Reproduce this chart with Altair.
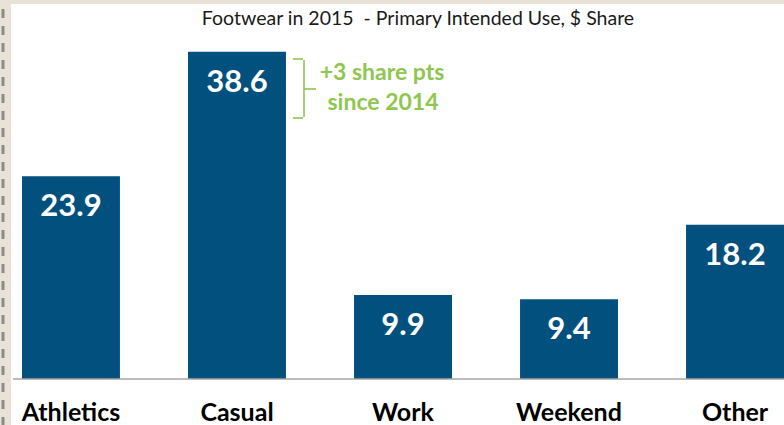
import altair as alt
import pandas as pd

categories = ["Athletics", "Casual", "Work", "Weekend", "Other"]
shares = [23.9, 38.6, 9.9, 9.4, 18.2]
title_text = "Footwear in 2015\u00a0\u00a0- Primary Intended Use, $ Share"
note_lines = ["+3 share pts", "since 2014"]

df = pd.DataFrame({"cat": categories, "share": shares,
                   "label": [f"{v:.1f}" for v in shares]})
one = pd.DataFrame({"a": [0]})

BAR = "#02507e"
GREEN = "#8fc650"
FONT = "Lato"

x = alt.X("cat:N", sort=categories,
          scale=alt.Scale(range=[22, 784], paddingInner=0.41, paddingOuter=0),
          axis=alt.Axis(title=None, ticks=False, domain=False, labelAngle=0,
                        labelFont=FONT, labelFontWeight="bold", labelFontSize=25,
                        labelColor="#000000", labelPadding=21))
y = alt.Y("share:Q", scale=alt.Scale(domain=[0, 44.7]), axis=None)

base = alt.Chart(df)
bars = base.mark_bar(color=BAR).encode(x=x, y=y)
vals = base.mark_text(color="white", font=FONT, fontWeight="bold", fontSize=31,
                      baseline="middle", dy=31).encode(x=x, y=y, text="label:N")

# decorative frame of the screenshot
frame_left = alt.Chart(one).mark_rect(color="#e8e2d7").encode(
    x=alt.value(0), x2=alt.value(11), y=alt.value(0), y2=alt.value(425))
frame_top = alt.Chart(one).mark_rect(color="#e8e2d7").encode(
    x=alt.value(0), x2=alt.value(784), y=alt.value(0), y2=alt.value(4))
dash = alt.Chart(one).mark_rule(color="#8c8c8c", strokeWidth=3, strokeDash=[9, 8]).encode(
    x=alt.value(3), y=alt.value(9), y2=alt.value(425))

baseline = alt.Chart(one).mark_rule(color="#a6a6a6", strokeWidth=1.5).encode(
    x=alt.value(13), x2=alt.value(784), y=alt.value(379))

title = alt.Chart(one).mark_text(font=FONT, fontSize=19.5, color="#1a1a1a",
                                 baseline="middle").encode(
    x=alt.value(418), y=alt.value(19), text=alt.value(title_text))

note1 = alt.Chart(one).mark_text(font=FONT, fontSize=23, fontWeight="bold", color=GREEN,
                                 baseline="middle").encode(
    x=alt.value(382), y=alt.value(73), text=alt.value(note_lines[0]))
note2 = alt.Chart(one).mark_text(font=FONT, fontSize=23, fontWeight="bold", color=GREEN,
                                 baseline="middle").encode(
    x=alt.value(383), y=alt.value(103), text=alt.value(note_lines[1]))

br = dict(color=GREEN, strokeWidth=1.6)
brace = (
    alt.Chart(one).mark_rule(**br).encode(x=alt.value(293), x2=alt.value(303), y=alt.value(59)) +
    alt.Chart(one).mark_rule(**br).encode(x=alt.value(293), x2=alt.value(303), y=alt.value(118)) +
    alt.Chart(one).mark_rule(**br).encode(x=alt.value(304), y=alt.value(60), y2=alt.value(117)) +
    alt.Chart(one).mark_rule(**br).encode(x=alt.value(304), x2=alt.value(316), y=alt.value(89))
)

chart = alt.layer(frame_left, frame_top, dash, bars, vals, baseline, title,
                  note1, note2, brace).properties(
    width=784, height=379,
    autosize=alt.AutoSizeParams(type="none"),
    padding={"left": 0, "top": 0, "right": 0, "bottom": 46},
    background="white",
).configure_view(stroke=None)

chart.save("out.html", embed_options={"renderer": "svg", "actions": False})
